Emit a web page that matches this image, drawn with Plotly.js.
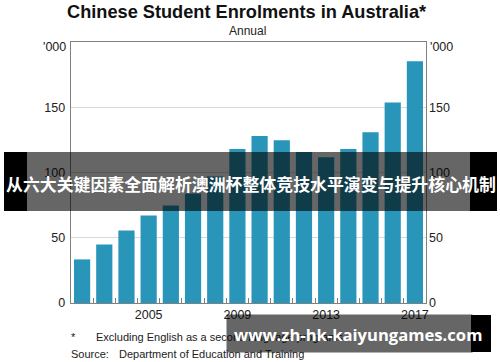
<!DOCTYPE html>
<html><head><meta charset="utf-8">
<script src="https://cdn.plot.ly/plotly-3.0.1.min.js"></script>
<style>html,body{margin:0;padding:0;background:#fff}#c{width:500px;height:362px}</style>
</head><body><div id="c"></div>
<script>
const years = [2002,2003,2004,2005,2006,2007,2008,2009,2010,2011,2012,2013,2014,2015,2016,2017];
const enrolments = [33.4,44.9,55.6,67.1,74.7,84,97,118,128,124.7,115.8,111.7,118,130.8,153.6,185.2];
const xTickVals = [2005,2009,2013,2017];
const yTickVals = [0,50,100,150];
const titleText = 'Chinese Student Enrolments in Australia*';
const subtitleText = 'Annual';
const unitText = "'000";
const footStar = '*';
const footNote = 'Excluding English as a second language programs';
const sourceLabel = 'Source:';
const sourceText = 'Department of Education and Training';
const bannerText = '从六大关键因素全面解析澳洲杯整体竞技水平演变与提升核心机制';
const watermarkText = 'www.zh-hk-kaiyungames.com';

const W=500,H=362,L=71,R=74,T=42,B=59;
const pw=W-L-R, ph=H-T-B;
const px=x=>(x-L)/pw, py=y=>(H-B-y)/ph;
const font='Liberation Sans, Arial, sans-serif';
const barColor='#2996b9';

function rect(x0,y0,x1,y1,color){return {type:'rect',xref:'paper',yref:'paper',x0:px(x0),x1:px(x1),y0:py(y1),y1:py(y0),fillcolor:color,line:{width:0},layer:'above'};}
function txt(text,x,y,size,opts){return Object.assign({text:text,xref:'paper',yref:'paper',x:px(x),y:py(y),showarrow:false,font:{family:font,size:size,color:'#222'},xanchor:'left',yanchor:'middle'},opts||{});}

const minorVals = years.slice(0,-1).map(v=>v+0.5);

const data=[
 {type:'bar',x:years,y:enrolments,marker:{color:barColor,line:{width:0}},width:0.73,hoverinfo:'skip'},
 {type:'bar',x:years,y:enrolments,yaxis:'y2',marker:{color:'rgba(0,0,0,0)'},width:0.73,hoverinfo:'skip',showlegend:false}
];
const layout={
 width:W,height:H,margin:{l:L,r:R,t:T,b:B},paper_bgcolor:'#fff',plot_bgcolor:'#fff',showlegend:false,barmode:'overlay',
 font:{family:font,size:12,color:'#222'},
 xaxis:{range:[2001.5,2017.5],tickmode:'array',tickvals:xTickVals,ticks:'',showgrid:false,zeroline:false,
   showline:true,mirror:true,linecolor:'#808080',linewidth:1.3,tickfont:{size:12.5,color:'#222'},
   minor:{tickmode:'array',tickvals:minorVals,ticks:'inside',ticklen:5,tickcolor:'#808080',tickwidth:1,showgrid:false}},
 yaxis:{range:[0,200],tickmode:'array',tickvals:yTickVals,ticks:'',showgrid:true,gridcolor:'#d9d9d9',gridwidth:1.3,zeroline:false,
   showline:true,mirror:true,linecolor:'#808080',linewidth:1.3,tickfont:{size:12.5,color:'#222'},ticklabelstandoff:2},
 yaxis2:{range:[0,200],overlaying:'y',side:'right',tickmode:'array',tickvals:yTickVals,ticks:'',showgrid:false,zeroline:false,
   showline:false,tickfont:{size:12.5,color:'#222'},ticklabelstandoff:2},
 shapes:[
   rect(4,152,27,211,'#000'),
   rect(27,152,470,211,'rgba(0,0,0,0.6)'),
   rect(470,152,497,211,'#000'),
   rect(471,315,491,352,'#000')
 ],
 annotations:[
   txt(titleText,247,12,18.2,{xanchor:'center',font:{family:font,size:18.2,color:'#111',weight:'bold'}}),
   txt(subtitleText,247.5,31,12,{xanchor:'center'}),
   txt(unitText,68,47,12.5,{xanchor:'right'}),
   txt(unitText,428,47,12.5,{xanchor:'left'}),
   txt(footStar,69,337,11),
   txt(footNote,94,337,11),
   txt(sourceLabel,69,354,11),
   txt(sourceText,117,354,11),
   txt(bannerText,250.5,183,16.9,{xanchor:'center',font:{family:'Noto Sans CJK SC, sans-serif',size:16.9,color:'#fff',weight:'bold'}}),
   txt(' ',226,333.5,10,{xanchor:'left',bgcolor:'rgba(0,0,0,0.6)',borderpad:0,width:245,height:37}),
   txt(watermarkText,358,334,16.6,{xanchor:'center',
     font:{family:'Open Sans, Noto Sans, sans-serif',size:16.6,color:'#fff',weight:'bold'}})
 ]
};
Plotly.newPlot('c',data,layout,{staticPlot:true,displayModeBar:false});
</script></body></html>
